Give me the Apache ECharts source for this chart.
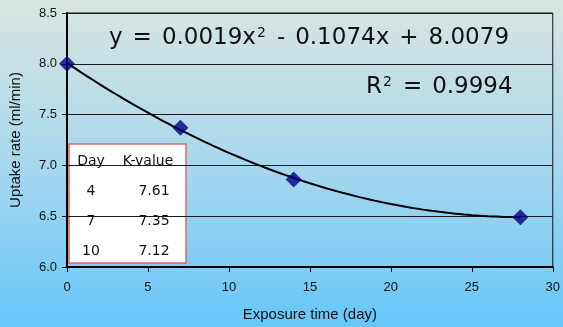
<!DOCTYPE html>
<html>
<head>
<meta charset="utf-8">
<script src="https://cdn.jsdelivr.net/npm/echarts@6/dist/echarts.min.js"></script>
<style>
  html, body { margin: 0; padding: 0; }
  #chart { width: 563px; height: 327px; }
</style>
</head>
<body>
<div id="chart"></div>
<script>
// Measured uptake rate against exposure time
const exposureDays = [0, 7, 14, 28];
const uptakeRates = [8.0, 7.37, 6.86, 6.49];

// Quadratic trendline y = a*x^2 + b*x + c
const trendCoeffs = [0.0019, -0.1074, 8.0079];
const rSquared = '0.9994';

// K-value table
const tableDays = ['4', '7', '10'];
const tableK = ['7.61', '7.35', '7.12'];

const xTicks = [0, 5, 10, 15, 20, 25, 30];
const yTicks = [6.0, 6.5, 7.0, 7.5, 8.0, 8.5];

const trendPoints = [];
for (let i = 0; i <= 56; i++) {
  const x = i * 0.5;
  trendPoints.push([x, trendCoeffs[0] * x * x + trendCoeffs[1] * x + trendCoeffs[2]]);
}

// rich-text gap token between equation terms
const G = '{g| }';
const eqText = 'y' + G + '=' + G + trendCoeffs[0].toFixed(4) + 'x{sup|2}' + G + '-' + G +
  Math.abs(trendCoeffs[1]).toFixed(4) + 'x' + G + '+' + G + trendCoeffs[2].toFixed(4);
const r2Text = 'R{sup|2}' + G + '=' + G + rSquared;

const chart = echarts.init(document.getElementById('chart'));

const FONT = '"DejaVu Sans"';
const tableLeft = 69, tableTop = 144, tableW = 117, tableH = 119;
const rowY = [161, 191, 221, 251];
const colX = [91, 154];
const cell = (x, y, t) => ({
  type: 'text', x: x, y: y,
  style: { text: t, font: '14px ' + FONT, fill: '#111', align: 'center', verticalAlign: 'middle' }
});
const tableChildren = [
  { type: 'rect', shape: { x: tableLeft, y: tableTop, width: tableW, height: tableH },
    style: { fill: '#ffffff', stroke: '#e06868', lineWidth: 1.5 } },
  cell(colX[0], rowY[0], 'Day'),
  cell(148, rowY[0], 'K-value')
];
tableDays.forEach((d, i) => {
  tableChildren.push(cell(colX[0], rowY[i + 1], d));
  tableChildren.push(cell(colX[1], rowY[i + 1], tableK[i]));
});

const richStyles = {
  sup: { fontSize: 14, fontFamily: 'DejaVu Sans', fill: '#111', verticalAlign: 'top', padding: [0, 1, 0, 1] },
  g: { width: 10, fontSize: 23 }
};

chart.setOption({
  animation: false,
  backgroundColor: {
    type: 'linear', x: 0, y: 0, x2: 0, y2: 1,
    colorStops: [
      { offset: 0, color: '#d9e5e0' },
      { offset: 0.5, color: '#a8d8ee' },
      { offset: 1, color: '#66c6f8' }
    ]
  },
  grid: {
    left: 62, right: 10, top: 13, bottom: 57,
    show: true, borderColor: '#111', borderWidth: 1, backgroundColor: 'transparent'
  },
  xAxis: {
    type: 'value', min: xTicks[0], max: xTicks[xTicks.length - 1], interval: 5,
    name: 'Exposure time (day)', nameLocation: 'middle', nameGap: 40,
    nameTextStyle: { fontFamily: 'Liberation Sans', fontSize: 15, color: '#111' },
    axisLine: { lineStyle: { color: '#000', width: 2 } },
    axisTick: { show: true, length: 5, lineStyle: { color: '#000', width: 1 } },
    axisLabel: { fontFamily: 'Liberation Sans', fontSize: 13, color: '#111', margin: 14 },
    splitLine: { show: false }
  },
  yAxis: {
    type: 'value', min: yTicks[0], max: yTicks[yTicks.length - 1], interval: 0.5,
    name: 'Uptake rate (ml/min)', nameLocation: 'middle', nameGap: 44, nameRotate: 90,
    nameTextStyle: { fontFamily: 'Liberation Sans', fontSize: 15, color: '#111' },
    axisLine: { show: true, lineStyle: { color: '#000', width: 2 } },
    axisTick: { show: true, length: 5, lineStyle: { color: '#000', width: 1 } },
    axisLabel: { fontFamily: 'Liberation Sans', fontSize: 13, color: '#111', margin: 10,
      formatter: v => v.toFixed(1) },
    splitLine: { show: true, lineStyle: { color: '#1a1a1a', width: 1 } }
  },
  series: [
    {
      type: 'line', data: trendPoints, smooth: true, showSymbol: false,
      lineStyle: { color: '#000', width: 2 }, z: 2
    },
    {
      type: 'scatter', data: exposureDays.map((d, i) => [d, uptakeRates[i]]),
      symbol: 'diamond', symbolSize: 16,
      itemStyle: { color: '#000080' }, z: 3
    }
  ],
  graphic: [
    {
      type: 'text', x: 109, y: 38,
      style: {
        text: eqText, fill: '#111', font: '23px ' + FONT, verticalAlign: 'middle',
        rich: richStyles
      }
    },
    {
      type: 'text', x: 366, y: 87,
      style: {
        text: r2Text, fill: '#111', font: '23px ' + FONT, verticalAlign: 'middle',
        rich: richStyles
      }
    },
    { type: 'group', children: tableChildren }
  ]
});
</script>
</body>
</html>
